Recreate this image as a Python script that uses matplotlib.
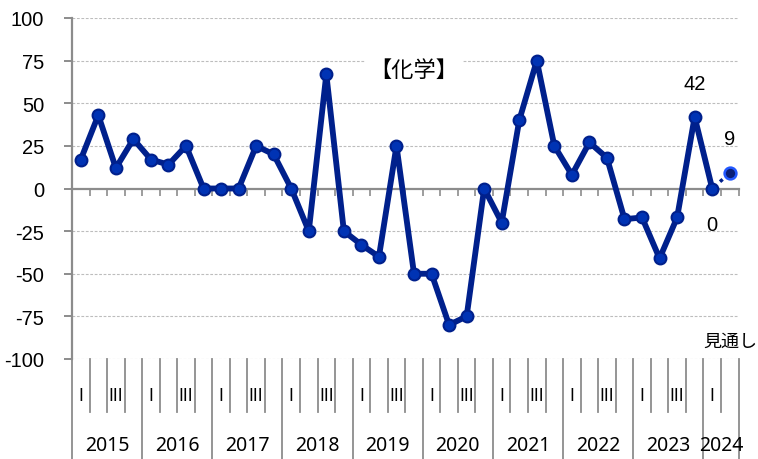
import matplotlib
matplotlib.use("Agg")
import matplotlib.pyplot as plt
import numpy as np

plt.rcParams["font.family"] = ["Noto Sans CJK JP", "DejaVu Sans"]

# quarterly values, 2015 Q1 .. 2024 Q1 (actual), 2024 Q2 (forecast)
years = [2015, 2016, 2017, 2018, 2019, 2020, 2021, 2022, 2023, 2024]
quarters_per_year = [4, 4, 4, 4, 4, 4, 4, 4, 4, 2]
quarter_names = ["I", "", "III", ""]
actual = [17, 43, 12, 29, 17, 14, 25, 0,
          0, 0, 25, 20, 0, -25, 67, -25,
          -33, -40, 25, -50, -50, -80, -75, 0,
          -20, 40, 75, 25, 8, 27, 18, -18,
          -17, -41, -17, 42, 0]
forecast = [9]
title = "【化学】"
forecast_label = "見通し"
yticks = [-100, -75, -50, -25, 0, 25, 50, 75, 100]

LINE = "#00208C"
FACE = "#0033B4"
GRID = "#BDBDBD"
AXIS = "#8C8C8C"
NUM_FONT = ["Liberation Sans"]
CAT_FONT = ["Noto Sans", "DejaVu Sans"]
ROMAN_FONT = ["DejaVu Sans"]

n = len(actual) + len(forecast)
x_act = np.arange(len(actual))
x_fc = np.arange(len(actual), n)

fig = plt.figure(figsize=(7.58, 4.60), dpi=100)
ax = fig.add_axes([72 / 758, 1 - 360 / 460, (738.5 - 72) / 758, (360 - 19) / 460])

ax.set_xlim(-0.5, n - 0.5)
ax.set_ylim(-100, 100)

for v in yticks:
    if v != 0:
        ax.axhline(v, color=GRID, lw=0.8, ls=(0, (2.5, 1.5)), zorder=1)

# forecast connector and point
ax.plot([x_act[-1], x_fc[0]], [actual[-1], forecast[0]], color=LINE, lw=2.5,
        ls=(0, (1, 2)), zorder=3)
ax.plot(x_act, actual, color=LINE, lw=4.2, marker="o", ms=8.5,
        mfc=FACE, mec=LINE, mew=1.5, zorder=4, solid_joinstyle="round")
ax.plot(x_fc, forecast, ls="none", marker="o", ms=8.5, mfc="#0A1F78",
        mec="#2258FF", mew=1.8, zorder=5)

# value labels
ax.annotate(str(actual[-2]), (x_act[-2], actual[-2]), xytext=(0, 24),
            textcoords="offset points", ha="center", va="center", fontsize=14.5,
            family=NUM_FONT)
ax.annotate(str(forecast[0]), (x_fc[0], forecast[0]), xytext=(0, 25),
            textcoords="offset points", ha="center", va="center", fontsize=14.5,
            family=NUM_FONT)
ax.annotate(str(actual[-1]), (x_act[-1], actual[-1]), xytext=(0, -26),
            textcoords="offset points", ha="center", va="center", fontsize=14.5,
            family=NUM_FONT)

ax.text(0.513, 0.85, title, transform=ax.transAxes, ha="center", va="center",
        fontsize=16, zorder=2,
        bbox=dict(facecolor="white", edgecolor="none", pad=3))
fig.text(703 / 758, 1 - 342 / 460, forecast_label, ha="left", va="center",
         fontsize=13)

# axes styling
for s in ["top", "right"]:
    ax.spines[s].set_visible(False)
ax.spines["left"].set_color(AXIS)
ax.spines["left"].set_linewidth(1.6)
ax.spines["bottom"].set_position(("data", 0))
ax.spines["bottom"].set_color(AXIS)
ax.spines["bottom"].set_linewidth(1.6)
ax.spines["bottom"].set_zorder(2)

ax.set_yticks(yticks)
ax.set_yticklabels([str(v) for v in yticks], family=NUM_FONT, fontsize=14.5)
ax.tick_params(axis="y", direction="out", length=6, width=1.4, color=AXIS, pad=14)
ax.set_xticks(np.arange(-0.5, n, 1))
ax.set_xticklabels([])
ax.tick_params(axis="x", direction="out", length=5, width=1.2, color=AXIS)

# category label area below the plot
tr = ax.get_xaxis_transform()
y_top = 0.0
y_inner = -(413 - 360) / 341
y_outer = -(460 - 360) / 341
y_q = -(396 - 360) / 341
y_y = -(446 - 360) / 341

start = 0
for yr, nq in zip(years, quarters_per_year):
    left = start - 0.5
    ax.plot([left, left], [y_top, y_outer], transform=tr, color=AXIS, lw=1.3,
            clip_on=False)
    for q in range(nq):
        xi = start + q
        if q > 0:
            ax.plot([xi - 0.5, xi - 0.5], [y_top, y_inner], transform=tr,
                    color=AXIS, lw=1.3, clip_on=False)
        if quarter_names[q]:
            ax.text(xi, y_q, quarter_names[q], transform=tr, ha="center",
                    va="center", fontsize=12, family=ROMAN_FONT)
    ax.text(start + (nq - 1) / 2, y_y, str(yr), transform=tr, ha="center",
            va="center", fontsize=14, family=CAT_FONT)
    start += nq
ax.plot([n - 0.5, n - 0.5], [y_top, y_outer], transform=tr, color=AXIS, lw=1.3,
        clip_on=False)

fig.savefig("out.png", dpi=100)
